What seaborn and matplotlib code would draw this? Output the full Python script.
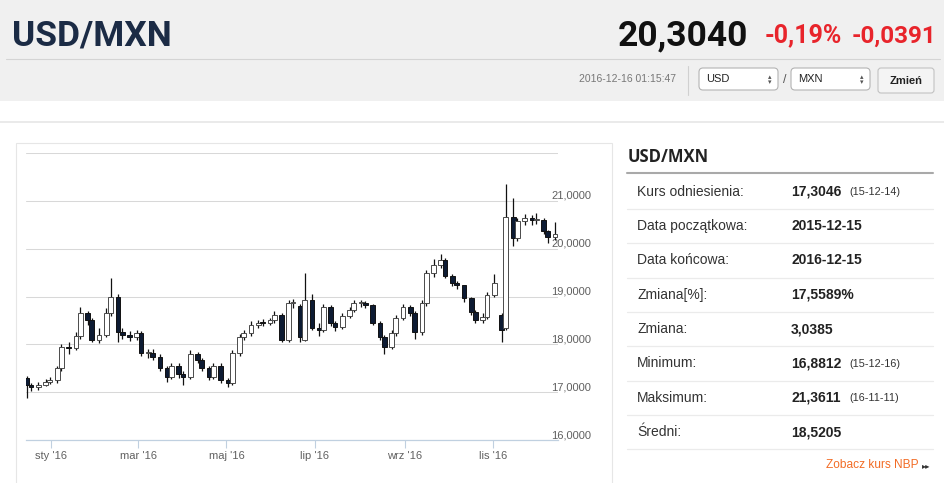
import numpy as np
import pandas as pd
import matplotlib
matplotlib.use('Agg')
import matplotlib.pyplot as plt
import matplotlib.transforms as mtransforms
from matplotlib.patches import Rectangle, FancyBboxPatch
from matplotlib.lines import Line2D
import seaborn as sns

# ---------------- data ----------------
opens = [17.30, 17.15, 17.10, 17.16, 17.22, 17.25, 17.50, 17.95, 17.92, 18.18,
         18.65, 18.50, 18.10, 18.20, 18.65, 19.00, 18.25, 18.20, 18.16, 18.23,
         17.81, 17.81, 17.74, 17.50, 17.32, 17.55, 17.39, 17.32, 17.80, 17.67,
         17.50, 17.32, 17.55, 17.25, 17.20, 17.81, 18.16, 18.23, 18.40, 18.45,
         18.44, 18.50, 18.62, 18.09, 18.86, 18.80, 18.10, 18.93, 18.35, 18.30,
         18.79, 18.44, 18.37, 18.60, 18.72, 18.86, 18.86, 18.82, 18.44, 18.16,
         17.95, 18.23, 18.55, 18.79, 18.65, 18.26, 18.86, 19.49, 19.66, 19.76,
         19.42, 19.28, 19.23, 18.96, 18.68, 18.51, 18.58, 19.03, 18.62, 18.35,
         20.67, 20.22, 20.57, 20.64, 20.60, 20.60, 20.36, 20.25]
highs = [17.33, 17.20, 17.22, 17.28, 17.32, 17.55, 18.00, 18.05, 18.25, 18.78,
         18.70, 18.55, 18.35, 18.75, 19.38, 19.05, 18.35, 18.28, 18.30, 18.28,
         17.90, 17.90, 17.80, 17.55, 17.62, 17.60, 17.45, 17.88, 17.85, 17.72,
         17.55, 17.62, 17.60, 17.30, 17.88, 18.22, 18.30, 18.48, 18.50, 18.52,
         18.55, 18.70, 18.65, 18.92, 18.95, 18.85, 19.49, 19.05, 18.45, 18.85,
         18.82, 18.48, 18.65, 18.78, 18.92, 18.92, 18.90, 18.85, 18.48, 18.20,
         18.30, 18.62, 18.85, 18.82, 18.70, 18.92, 19.55, 19.78, 19.88, 19.80,
         19.48, 19.32, 19.00, 18.98, 18.72, 18.65, 19.10, 19.48, 18.65, 21.36,
         21.05, 20.65, 20.72, 20.70, 20.74, 20.65, 20.40, 20.55]
lows = [16.88, 17.02, 17.05, 17.12, 17.18, 17.20, 17.45, 17.80, 17.88, 18.12,
        18.40, 18.05, 18.02, 18.15, 18.60, 18.05, 18.12, 18.08, 18.10, 17.75,
        17.72, 17.68, 17.45, 17.22, 17.28, 17.30, 17.15, 17.28, 17.60, 17.45,
        17.25, 17.28, 17.20, 17.10, 17.15, 17.75, 18.10, 18.18, 18.35, 18.38,
        18.40, 18.45, 18.05, 18.05, 18.75, 18.05, 18.08, 18.30, 18.18, 18.25,
        18.38, 18.28, 18.32, 18.55, 18.68, 18.78, 18.75, 18.40, 18.10, 17.80,
        17.90, 18.18, 18.50, 18.60, 18.12, 18.20, 18.80, 19.40, 19.60, 19.38,
        19.22, 19.15, 18.88, 18.62, 18.45, 18.45, 18.52, 18.98, 18.05, 18.30,
        20.05, 20.15, 20.50, 20.50, 20.52, 20.30, 20.12, 20.18]
closes = [17.15, 17.10, 17.16, 17.22, 17.25, 17.50, 17.95, 17.92, 18.18, 18.65,
          18.50, 18.10, 18.20, 18.65, 19.00, 18.25, 18.20, 18.16, 18.23, 17.81,
          17.81, 17.74, 17.50, 17.32, 17.55, 17.39, 17.32, 17.80, 17.67, 17.50,
          17.32, 17.55, 17.25, 17.20, 17.81, 18.16, 18.23, 18.40, 18.45, 18.44,
          18.50, 18.62, 18.09, 18.86, 18.86, 18.15, 18.93, 18.35, 18.30, 18.79,
          18.44, 18.37, 18.60, 18.72, 18.86, 18.86, 18.82, 18.44, 18.16, 17.95,
          18.23, 18.55, 18.79, 18.65, 18.26, 18.86, 19.49, 19.66, 19.76, 19.42,
          19.28, 19.23, 18.96, 18.68, 18.51, 18.58, 19.03, 19.28, 18.30, 20.67,
          20.22, 20.57, 20.64, 20.60, 20.60, 20.36, 20.25, 20.30]
dates = pd.bdate_range('2015-12-15', '2016-12-15')[::3][:len(closes)]

y_ticks = [16, 17, 18, 19, 20, 21, 22]
y_labels = ['16,0000', '17,0000', '18,0000', '19,0000', '20,0000', '21,0000', '']
month_ticks = pd.to_datetime(['2016-01-01', '2016-03-01', '2016-05-01',
                              '2016-07-01', '2016-09-01', '2016-11-01'])
month_labels = ["sty '16", "mar '16", "maj '16", "lip '16", "wrz '16", "lis '16"]

pair = 'USD/MXN'
last_rate = '20,3040'
change_pct = '-0,19%'
change_abs = '-0,0391'
timestamp = '2016-12-16 01:15:47'

row_labels = ['Kurs odniesienia:', 'Data początkowa:', 'Data końcowa:', 'Zmiana[%]:',
              'Zmiana:', 'Minimum:', 'Maksimum:', 'Średni:']
row_values = ['17,3046', '2015-12-15', '2016-12-15', '17,5589%',
              '3,0385', '16,8812', '21,3611', '18,5205']
row_dates = ['(15-12-14)', '', '', '', '', '(15-12-16)', '(16-11-11)', '']

# ---------------- figure ----------------
sns.set_theme(style='white')
plt.rcParams['font.family'] = ['Liberation Sans', 'DejaVu Sans']

W, H = 945, 483
fig = plt.figure(figsize=(W / 100, H / 100), dpi=100)
fig.patch.set_facecolor('white')
T = mtransforms.Affine2D().scale(1, -1).translate(0, H).scale(0.01) + fig.dpi_scale_trans


def rect(x0, y0, x1, y1, z=-5, **kw):
    fig.add_artist(Rectangle((x0, y0), x1 - x0, y1 - y0, transform=T, zorder=z, **kw))


def line(x0, y0, x1, y1, color, lw=0.75, z=-4):
    fig.add_artist(Line2D([x0, x1], [y0, y1], transform=T, color=color, lw=lw, zorder=z))


def txt(x, y, s, **kw):
    fig.text(x, y, s, transform=T, **kw)


# header
rect(0, 0, W, 101, fc='#f0f0f0', ec='none')
line(6, 58.5, 940, 58.5, '#d4d4d4', lw=0.8)
line(0, 121.5, W, 121.5, '#e6e6e6', lw=1.2)
head_font = ['Roboto', 'DejaVu Sans']
txt(12, 45, pair, fontsize=25.5, fontweight='bold', color='#1b2b45', family=head_font,
    ha='left', va='baseline')
txt(748, 45, last_rate, fontsize=25.5, fontweight='bold', color='#111111', family=head_font,
    ha='right', va='baseline')
txt(765, 42.5, change_pct, fontsize=18, fontweight='bold', color='#e8242b', family=head_font,
    ha='left', va='baseline')
txt(936, 42.5, change_abs, fontsize=17.5, fontweight='bold', color='#e8242b', family=head_font,
    ha='right', va='baseline')
txt(676, 79, timestamp, fontsize=7.5, color='#777777', ha='right', va='center')
line(687.5, 66, 687.5, 95, '#d0d0d0', lw=0.8)
for bx, cur in [(699, 'USD'), (791, 'MXN')]:
    fig.add_artist(FancyBboxPatch((bx, 68), 79, 22, boxstyle='round,pad=0,rounding_size=4',
                                  transform=T, fc='white', ec='#b3b3b3', lw=0.8, zorder=-3))
    txt(bx + 7, 79.5, cur, fontsize=8, color='#222222', ha='left', va='center')
    txt(bx + 71, 79.5, '▴\n▾', fontsize=5, color='#555555', ha='center', va='center',
        linespacing=0.9, family=['DejaVu Sans'])
txt(785, 80, '/', fontsize=9, color='#555555', ha='center', va='center')
fig.add_artist(FancyBboxPatch((878, 68), 56, 25, boxstyle='round,pad=0,rounding_size=3',
                              transform=T, fc='#f4f4f4', ec='#c2c2c2', lw=0.8, zorder=-3))
txt(906, 81, 'Zmień', fontsize=8, fontweight='bold', color='#222222', ha='center', va='center')

# chart container
rect(16, 143, 612, 495, z=-5, fc='white', ec='#e6e6e6', lw=0.8)

# right panel
txt(628, 162, pair, fontsize=12, fontweight='bold', color='#222222',
    family=['Open Sans', 'DejaVu Sans'], ha='left', va='baseline')
line(627, 172.7, 933, 172.7, '#a9a9a9', lw=1.5)
for k, (lab, val, dt) in enumerate(zip(row_labels, row_values, row_dates)):
    yc = 191.7 + k * 34.35
    txt(637, yc, lab, fontsize=10, color='#333333', ha='left', va='center')
    txt(791, yc, val, fontsize=10, fontweight='bold', color='#222222', ha='left', va='center')
    if dt:
        txt(849, yc + 0.5, dt, fontsize=7.8, color='#333333', ha='left', va='center')
    line(627, 209 + k * 34.35, 933, 209 + k * 34.35, '#ebebeb', lw=0.9)
txt(919, 465, 'Zobacz kurs NBP', fontsize=8.6, color='#f26c25', ha='right', va='center')
txt(922, 465.5, '▸▸', fontsize=6, color='#333333', ha='left', va='center',
    family=['DejaVu Sans'])

# ---------------- candlestick chart ----------------
ax = fig.add_axes([26 / W, 1 - 440 / H, 532 / W, 287 / H])
ax.set_facecolor('none')
o = np.array(opens)
c = np.array(closes)
hi = np.array(highs)
lo = np.array(lows)
up = c >= o
body_bottom = np.minimum(o, c)
body_h = np.maximum(np.abs(c - o), 0.03)
ax.vlines(dates, lo, hi, color='#111111', lw=0.9, zorder=3)
ax.bar(dates, body_h, bottom=body_bottom, width=3.3,
       color=np.where(up, '#ffffff', '#0d1b33'),
       edgecolor=np.where(up, '#4a4a4a', '#111111'), lw=0.7, zorder=4)

ax.set_ylim(16, 22)
ax.set_yticks(y_ticks)
ax.set_yticklabels(y_labels)
ax.set_xlim(pd.Timestamp('2015-12-14 12:00'), pd.Timestamp('2016-12-16 00:00'))
ax.set_xticks(month_ticks)
ax.set_xticklabels(month_labels)
ax.yaxis.tick_right()
ax.tick_params(axis='y', length=0, pad=-5, labelsize=8, labelcolor='#606060')
ax.tick_params(axis='x', bottom=True, length=6, width=0.8, color='#c0d0e0', direction='out',
               pad=2, labelsize=8, labelcolor='#606060')
for t in ax.get_yticklabels():
    t.set_verticalalignment('bottom')
ax.grid(axis='y', color='#d8d8d8', lw=0.75, zorder=0)
ax.grid(axis='x', visible=False)
for s in ['left', 'right', 'top']:
    ax.spines[s].set_visible(False)
ax.spines['bottom'].set_color('#c0d0e0')
ax.spines['bottom'].set_linewidth(0.9)

fig.savefig('out.png', dpi=100)
